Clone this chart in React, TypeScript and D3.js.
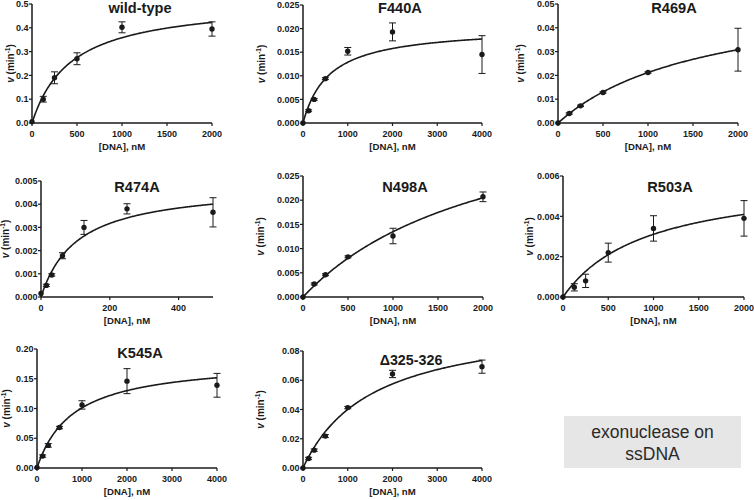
import React from "react";
import * as d3 from "d3";

// substrate concentrations, nM
const conc2000 = [0, 125, 250, 500, 1000, 2000];
const conc4000 = [0, 125, 250, 500, 1000, 2000, 4000];
const concR474A = [0, 15.6, 31.25, 62.5, 125, 250, 500];

// rates (min^-1) and error bars
const wtRate = [0.005, 0.1, 0.19, 0.27, 0.402, 0.395];
const wtErr = [0, 0.012, 0.025, 0.025, 0.023, 0.03];
const f440aRate = [0, 0.0026, 0.005, 0.0094, 0.0152, 0.0193, 0.0145];
const f440aErr = [0, 0.0002, 0.0002, 0.0002, 0.0008, 0.0019, 0.004];
const r469aRate = [0, 0.004, 0.0072, 0.0128, 0.0212, 0.0308];
const r469aErr = [0, 0.0003, 0.0003, 0.0003, 0.0003, 0.009];
const r474aRate = [0.00015, 0.0005, 0.00095, 0.00178, 0.003, 0.0038, 0.00365];
const r474aErr = [0, 0.00005, 0.00005, 0.00013, 0.0003, 0.00022, 0.00063];
const n498aRate = [0, 0.0027, 0.0046, 0.0083, 0.0126, 0.0207];
const n498aErr = [0, 0.0002, 0.0002, 0.0002, 0.0016, 0.001];
const r503aRate = [0, 0.00048, 0.0008, 0.0022, 0.0034, 0.0039];
const r503aErr = [0, 0.00018, 0.00033, 0.00047, 0.00063, 0.00088];
const k545aRate = [0.001, 0.02, 0.038, 0.068, 0.106, 0.146, 0.139];
const k545aErr = [0, 0.002, 0.003, 0.002, 0.007, 0.021, 0.02];
const delRate = [0, 0.0065, 0.0122, 0.0218, 0.0413, 0.0643, 0.0693];
const delErr = [0, 0.0008, 0.0008, 0.001, 0.0008, 0.0025, 0.0045];

// Michaelis-Menten fit parameters (Vmax, Km) estimated from the drawn curves
const fitVmax = [0.515, 0.0204, 0.0563, 0.00485, 0.0426, 0.006, 0.182, 0.102];
const fitKm = [437, 585, 1656, 105.8, 2158, 930, 800, 1549];

const titles = ["wild-type", "F440A", "R469A", "R474A", "N498A", "R503A", "K545A", "\u0394325-326"];
const yMaxes = [0.5, 0.025, 0.05, 0.005, 0.025, 0.006, 0.2, 0.08];
const yTicks = [
  [0, 0.1, 0.2, 0.3, 0.4, 0.5],
  [0, 0.005, 0.01, 0.015, 0.02, 0.025],
  [0, 0.01, 0.02, 0.03, 0.04, 0.05],
  [0, 0.001, 0.002, 0.003, 0.004, 0.005],
  [0, 0.005, 0.01, 0.015, 0.02, 0.025],
  [0, 0.002, 0.004, 0.006],
  [0, 0.05, 0.1, 0.15, 0.2],
  [0, 0.02, 0.04, 0.06, 0.08],
];
const yDecimals = [1, 3, 2, 3, 3, 3, 2, 2];
const xMaxes = [2000, 4000, 2000, 500, 2000, 2000, 4000, 4000];
const xTicks = [
  [0, 500, 1000, 1500, 2000],
  [0, 1000, 2000, 3000, 4000],
  [0, 500, 1000, 1500, 2000],
  [0, 200, 400],
  [0, 500, 1000, 1500, 2000],
  [0, 500, 1000, 1500, 2000],
  [0, 1000, 2000, 3000, 4000],
  [0, 1000, 2000, 3000, 4000],
];
const concs = [conc2000, conc4000, conc2000, concR474A, conc2000, conc2000, conc4000, conc4000];
const rates = [wtRate, f440aRate, r469aRate, r474aRate, n498aRate, r503aRate, k545aRate, delRate];
const errs = [wtErr, f440aErr, r469aErr, r474aErr, n498aErr, r503aErr, k545aErr, delErr];

// pixel frame of each panel: axis left/right, top/bottom, title position, y label x
const layout = [
  { x0: 32, x1: 212, y0: 123, y1: 4, tx: 140, ty: 13, lx: 10, ts: 14.6 },
  { x0: 303, x1: 482, y0: 123, y1: 5, tx: 400, ty: 13, lx: 261, ts: 14.6 },
  { x0: 558, x1: 738, y0: 123, y1: 4, tx: 674, ty: 13, lx: 520, ts: 14.6 },
  { x0: 41, x1: 213, y0: 297, y1: 181, tx: 137, ty: 192, lx: 5.5, ts: 14.6 },
  { x0: 303, x1: 483, y0: 297, y1: 176, tx: 405, ty: 192, lx: 260, ts: 14.6 },
  { x0: 563, x1: 744, y0: 297, y1: 176, tx: 670, ty: 192, lx: 529, ts: 14.6 },
  { x0: 37, x1: 217, y0: 468, y1: 349, tx: 140, ty: 358, lx: 6, ts: 14.6 },
  { x0: 303, x1: 482, y0: 468, y1: 351, tx: 411, ty: 365, lx: 260, ts: 14.3 },
];

const ink = "#1a1a1a";
const font = "'Liberation Sans', Arial, sans-serif";

function Panel({ i }: { i: number }) {
  const L = layout[i];
  const x = d3.scaleLinear().domain([0, xMaxes[i]]).range([L.x0, L.x1]);
  const y = d3.scaleLinear().domain([0, yMaxes[i]]).range([L.y0, L.y1]);
  const fmt = d3.format(`.${yDecimals[i]}f`);
  const V = fitVmax[i];
  const K = fitKm[i];
  const samples = d3.range(0, xMaxes[i] + xMaxes[i] / 400, xMaxes[i] / 200);
  const line = d3
    .line<number>()
    .x((c) => x(c))
    .y((c) => y((V * c) / (K + c)));
  const data = concs[i].map((c, k) => ({ c, v: rates[i][k], e: errs[i][k] }));

  return (
    <g fontFamily={font} fill={ink}>
      <path d={line(samples) || ""} fill="none" stroke={ink} strokeWidth={1.6} />
      {data.map((d, k) => (
        <g key={k}>
          {d.e > 0 && (
            <g stroke={ink} strokeWidth={1}>
              <line x1={x(d.c)} x2={x(d.c)} y1={y(d.v - d.e)} y2={y(d.v + d.e)} />
              <line x1={x(d.c) - 3.5} x2={x(d.c) + 3.5} y1={y(d.v - d.e)} y2={y(d.v - d.e)} />
              <line x1={x(d.c) - 3.5} x2={x(d.c) + 3.5} y1={y(d.v + d.e)} y2={y(d.v + d.e)} />
            </g>
          )}
          <circle cx={x(d.c)} cy={y(d.v)} r={2.7} fill={ink} />
        </g>
      ))}
      {/* axes */}
      <line x1={L.x0} x2={L.x0} y1={L.y1} y2={L.y0} stroke={ink} strokeWidth={1.5} />
      <line x1={L.x0} x2={L.x1} y1={L.y0} y2={L.y0} stroke={ink} strokeWidth={1.5} />
      {yTicks[i].map((t) => (
        <g key={"y" + t}>
          <line x1={L.x0 - 3} x2={L.x0} y1={y(t)} y2={y(t)} stroke={ink} strokeWidth={1.2} />
          <text x={L.x0 - 3.5} y={y(t) + 3.2} textAnchor="end" fontSize={9} fontWeight="bold">
            {fmt(t)}
          </text>
        </g>
      ))}
      {xTicks[i].map((t) => (
        <g key={"x" + t}>
          <line x1={x(t)} x2={x(t)} y1={L.y0} y2={L.y0 + 3} stroke={ink} strokeWidth={1.2} />
          <text x={x(t)} y={L.y0 + 14} textAnchor="middle" fontSize={9} fontWeight="bold">
            {t}
          </text>
        </g>
      ))}
      <text x={(L.x0 + L.x1) / 2} y={L.y0 + 27} textAnchor="middle" fontSize={9.6} fontWeight="bold">
        [DNA], nM
      </text>
      <text
        transform={`translate(${L.lx + 3.5},${(L.y0 + L.y1) / 2}) rotate(-90)`}
        textAnchor="middle"
        fontSize={10}
        fontWeight="bold"
      >
        <tspan fontStyle="italic">v</tspan>
        <tspan> (min</tspan>
        <tspan fontSize={6.5} dy={-3.8}>-1</tspan>
        <tspan dy={3.8}>)</tspan>
      </text>
      <text x={L.tx} y={L.ty} textAnchor="middle" fontSize={L.ts} fontWeight="bold">
        {titles[i]}
      </text>
    </g>
  );
}

export default function App() {
  return (
    <svg width={754} height={500} style={{ position: "absolute", left: 0, top: 0, background: "#fff" }}>
      {titles.map((_, i) => (
        <Panel key={i} i={i} />
      ))}
      <rect x={564} y={416} width={177} height={52} fill="#e6e6e6" />
      <text x={652.5} y={438} textAnchor="middle" fontSize={17.5} fontFamily={font} fill="#2a2a2a">
        exonuclease on
      </text>
      <text x={652.5} y={460} textAnchor="middle" fontSize={17.5} fontFamily={font} fill="#2a2a2a">
        ssDNA
      </text>
    </svg>
  );
}
